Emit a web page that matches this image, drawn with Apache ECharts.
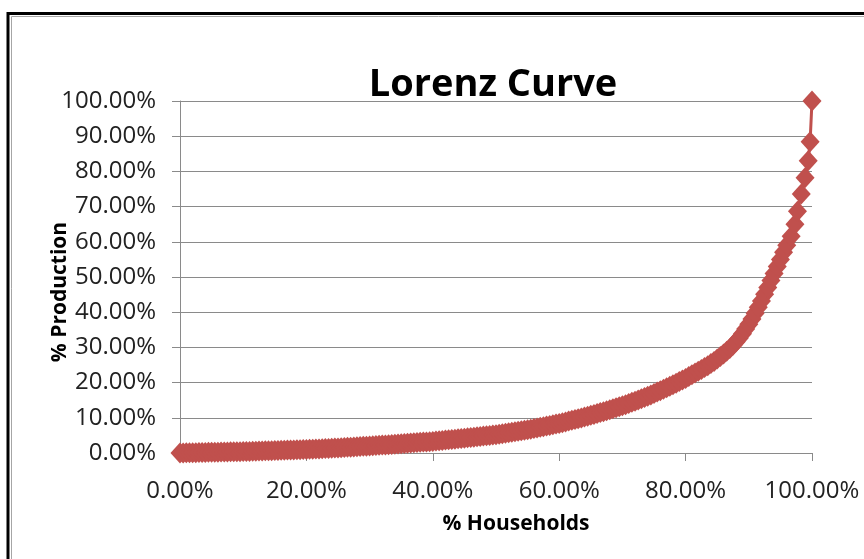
<!DOCTYPE html>
<html>
<head>
<meta charset="utf-8">
<script src="https://cdn.jsdelivr.net/npm/echarts@6/dist/echarts.min.js"></script>
<style>
html,body{margin:0;padding:0;background:#fff;}
#chart{width:864px;height:559px;}
</style>
</head>
<body>
<div id="chart"></div>
<script>
const chartTitle = 'Lorenz Curve';
const xAxisName = '% Households';
const yAxisName = '% Production';

// cumulative % of households (x)
const householdsPct = [
  0,0.5,1,1.5,2,2.5,3,3.5,4,4.5,5,5.5,6,6.5,7,7.5,8,8.5,9,9.5,
  10,10.5,11,11.5,12,12.5,13,13.5,14,14.5,15,15.5,16,16.5,17,17.5,18,18.5,19,19.5,
  20,20.5,21,21.5,22,22.5,23,23.5,24,24.5,25,25.5,26,26.5,27,27.5,28,28.5,29,29.5,
  30,30.5,31,31.5,32,32.5,33,33.5,34,34.5,35,35.5,36,36.5,37,37.5,38,38.5,39,39.5,
  40,40.5,41,41.5,42,42.5,43,43.5,44,44.5,45,45.5,46,46.5,47,47.5,48,48.5,49,49.5,
  50,50.5,51,51.5,52,52.5,53,53.5,54,54.5,55,55.5,56,56.5,57,57.5,58,58.5,59,59.5,
  60,60.5,61,61.5,62,62.5,63,63.5,64,64.5,65,65.5,66,66.5,67,67.5,68,68.5,69,69.5,
  70,70.5,71,71.5,72,72.5,73,73.5,74,74.5,75,75.5,76,76.5,77,77.5,78,78.5,79,79.5,
  80,80.5,81,81.5,82,82.5,83,83.5,84,84.5,85,85.5,86,86.5,87,87.5,88,88.5,89,89.5,
  90,90.5,91,91.5,92,92.5,93,93.5,94,94.5,95,95.5,96,
  96.7,97.3,97.7,98.3,98.9,99.4,99.7,100
];

// cumulative % of production (y)
const productionPct = [
  0,0.02,0.04,0.06,0.08,0.1,0.12,0.14,0.16,0.18,0.2,0.22,0.24,0.26,0.28,0.3,0.32,0.34,0.36,0.38,
  0.4,0.43,0.46,0.49,0.52,0.55,0.58,0.61,0.64,0.67,0.7,0.73,0.76,0.79,0.82,0.85,0.88,0.91,0.94,0.97,
  1.0,1.04,1.08,1.13,1.17,1.22,1.26,1.31,1.36,1.4,1.45,1.5,1.55,1.61,1.66,1.72,1.77,1.83,1.89,1.94,
  2.0,2.06,2.12,2.18,2.24,2.3,2.36,2.42,2.48,2.54,2.6,2.67,2.74,2.81,2.88,2.95,3.02,3.09,3.16,3.23,
  3.3,3.39,3.48,3.57,3.66,3.75,3.84,3.93,4.02,4.11,4.2,4.3,4.4,4.5,4.6,4.7,4.8,4.9,5.0,5.1,
  5.2,5.33,5.46,5.6,5.74,5.88,6.02,6.16,6.3,6.45,6.6,6.77,6.94,7.11,7.28,7.46,7.64,7.83,8.02,8.21,
  8.4,8.62,8.84,9.06,9.28,9.51,9.74,9.97,10.2,10.45,10.7,10.96,11.22,11.48,11.75,12.02,12.29,12.56,12.84,13.12,
  13.4,13.73,14.06,14.39,14.73,15.07,15.42,15.77,16.13,16.51,16.9,17.3,17.71,18.12,18.54,18.96,19.39,19.83,20.28,20.74,
  21.2,21.7,22.2,22.7,23.22,23.74,24.27,24.82,25.4,26.0,26.7,27.4,28.1,28.9,29.7,30.6,31.6,32.7,33.9,35.2,
  36.6,38.1,39.7,41.4,43.2,45.1,47.0,49.0,51.0,53.0,55.0,57.0,59.0,
  61.6,65,68.7,73.6,78.2,83.0,88.4,100
];

const seriesData = householdsPct.map((x, i) => [x, productionPct[i]]);
const pctFmt = v => v.toFixed(2) + '%';
const FONT = '"Open Sans", "DejaVu Sans", sans-serif';
const GRIDC = '#8a8a8a';

const chart = echarts.init(document.getElementById('chart'), null, {renderer: 'canvas'});
chart.setOption({
  backgroundColor: '#ffffff',
  animation: false,
  grid: {left: 180, right: 52, top: 101, bottom: 106, containLabel: false},
  graphic: [
    {type: 'rect', silent: true, z: 100,
     shape: {x: 8, y: 13.5, width: 900, height: 600},
     style: {fill: 'none', stroke: '#000', lineWidth: 3}},
    {type: 'rect', silent: true, z: 100,
     shape: {x: 11.5, y: 16.5, width: 900, height: 600},
     style: {fill: 'none', stroke: '#a6a6a6', lineWidth: 1}},
    {type: 'text', silent: true, z: 50, x: 493, y: 85,
     style: {text: chartTitle, font: 'bold 38px ' + FONT, fill: '#000',
             textAlign: 'center', textVerticalAlign: 'middle'}},
    {type: 'text', silent: true, z: 50, x: 60, y: 292, rotation: Math.PI / 2,
     style: {text: yAxisName, font: 'bold 21px ' + FONT, fill: '#000',
             textAlign: 'center', textVerticalAlign: 'middle'}},
    {type: 'text', silent: true, z: 50, x: 516, y: 524,
     style: {text: xAxisName, font: 'bold 21px ' + FONT, fill: '#000',
             textAlign: 'center', textVerticalAlign: 'middle'}}
  ],
  xAxis: {
    type: 'value', min: 0, max: 100, interval: 20,
    axisLine: {show: true, lineStyle: {color: GRIDC, width: 1}},
    axisTick: {show: true, inside: false, length: 8, lineStyle: {color: GRIDC}},
    splitLine: {show: false},
    axisLabel: {formatter: pctFmt, color: '#222', fontFamily: FONT, fontSize: 24, margin: 26}
  },
  yAxis: {
    type: 'value', min: 0, max: 100, interval: 10,
    axisLine: {show: true, lineStyle: {color: GRIDC, width: 1}},
    axisTick: {show: true, inside: false, length: 8, lineStyle: {color: GRIDC}},
    splitLine: {show: true, lineStyle: {color: GRIDC, width: 1}},
    axisLabel: {formatter: pctFmt, color: '#222', fontFamily: FONT, fontSize: 24, margin: 24}
  },
  series: [{
    type: 'line',
    data: seriesData,
    clip: false,
    showAllSymbol: true,
    symbol: 'diamond',
    symbolSize: [19, 21],
    itemStyle: {color: '#C0504D', borderWidth: 0},
    lineStyle: {color: '#C0504D', width: 3},
    emphasis: {disabled: true}
  }]
});
</script>
</body>
</html>
